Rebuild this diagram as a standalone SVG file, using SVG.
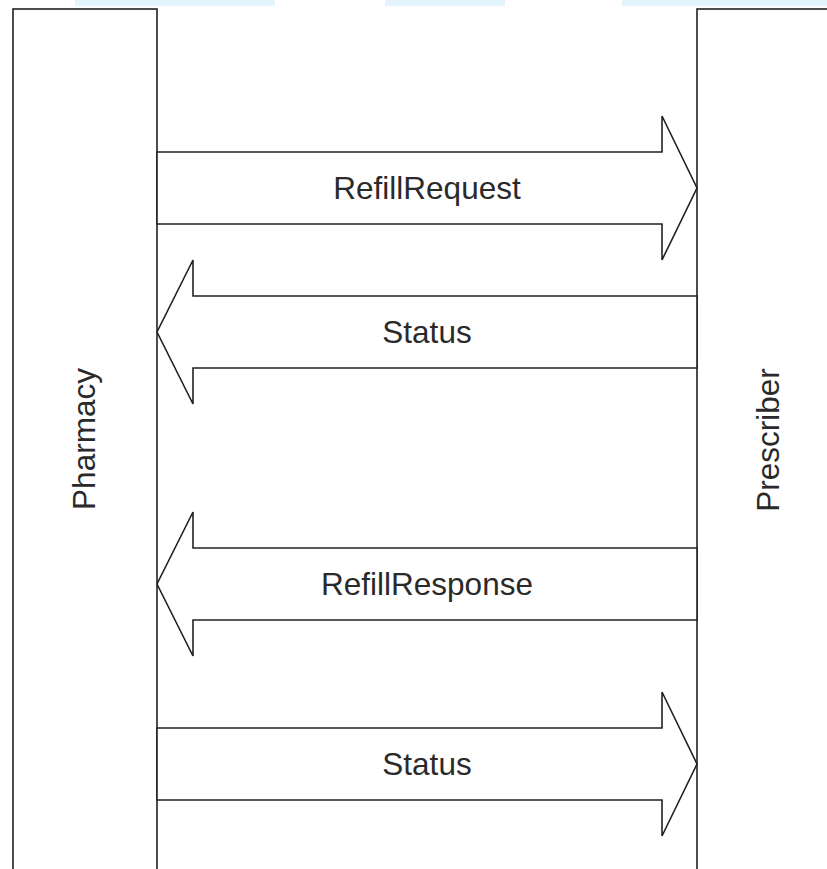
<svg xmlns="http://www.w3.org/2000/svg" width="827" height="869" viewBox="0 0 827 869">
  <style>
    .box { fill: #ffffff; stroke: #222222; stroke-width: 1.6; }
    .arrow { fill: #ffffff; stroke: #222222; stroke-width: 1.6; stroke-linejoin: miter; }
    .lbl { font-family: "Liberation Sans", Arial, sans-serif; font-size: 31.5px; fill: #2a2a2a; text-anchor: middle; }
    .wm { fill: #e3f4fc; }
  </style>
  <rect width="827" height="869" fill="#ffffff"/>
  <g id="watermark">
    <rect class="wm" x="75" y="0" width="200" height="6"/>
    <rect class="wm" x="385" y="0" width="120" height="6"/>
    <rect class="wm" x="622" y="0" width="205" height="6"/>
  </g>
  <g id="pharmacy">
    <rect class="box" x="13" y="9" width="144" height="880"/>
    <text class="lbl" transform="translate(95,439) rotate(-90)">Pharmacy</text>
  </g>
  <g id="prescriber">
    <rect class="box" x="697" y="9" width="160" height="880"/>
    <text class="lbl" transform="translate(779,440) rotate(-90)">Prescriber</text>
  </g>
  <g id="connectors">
    <g id="refill-request">
      <polygon class="arrow" points="157,152 662,152 662,116 697,188 662,260 662,224 157,224"/>
      <text class="lbl" x="427" y="199">RefillRequest</text>
    </g>
    <g id="status-1">
      <polygon class="arrow" points="697,296 193,296 193,260 157,332 193,404 193,368 697,368"/>
      <text class="lbl" x="427" y="343">Status</text>
    </g>
    <g id="refill-response">
      <polygon class="arrow" points="697,548 193,548 193,512 157,584 193,656 193,620 697,620"/>
      <text class="lbl" x="427" y="595">RefillResponse</text>
    </g>
    <g id="status-2">
      <polygon class="arrow" points="157,728 662,728 662,692 697,764 662,836 662,800 157,800"/>
      <text class="lbl" x="427" y="775">Status</text>
    </g>
  </g>
</svg>
